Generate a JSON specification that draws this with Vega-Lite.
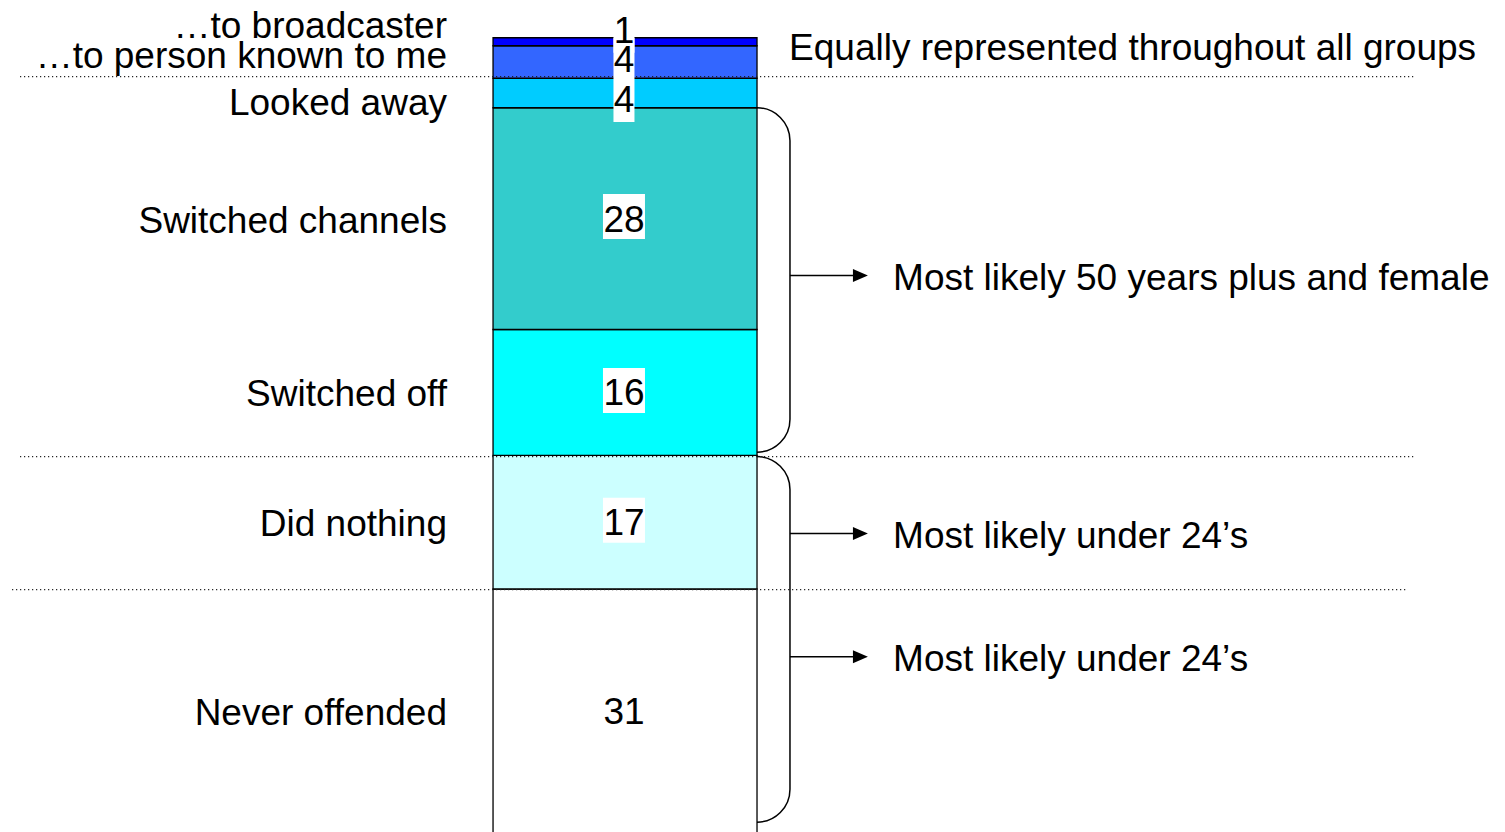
{
  "$schema": "https://vega.github.io/schema/vega-lite/v6.json",
  "width": 1505,
  "height": 832,
  "autosize": {"type": "fit", "contains": "padding"},
  "padding": 0,
  "background": "white",
  "config": {
    "view": {"stroke": null},
    "axis": {"disable": true},
    "font": "Liberation Sans",
    "text": {"font": "Liberation Sans", "fontSize": 37, "color": "black"}
  },
  "datasets": {
    "responses": [
      {"response": "Never offended", "value": 31.1, "order": 1},
      {"response": "Did nothing", "value": 17.0, "order": 2},
      {"response": "Switched off", "value": 16.0, "order": 3},
      {"response": "Switched channels", "value": 28.2, "order": 4},
      {"response": "Looked away", "value": 3.75, "order": 5},
      {"response": "…to person known to me", "value": 4.13, "order": 6},
      {"response": "…to broadcaster", "value": 1.02, "order": 7}
    ],
    "brackets": [
      {"group": "50 years plus and female", "lo": 48.5, "hi": 92.3},
      {"group": "under 24’s", "lo": 1.45, "hi": 47.94}
    ],
    "notes": [
      {"note": "Most likely 50 years plus and female", "y": 70.96},
      {"note": "Most likely under 24’s", "y": 38.15},
      {"note": "Most likely under 24’s", "y": 22.5}
    ],
    "dividers": [{"y": 96.26}, {"y": 47.94}],
    "dividers2": [{"y": 31.03}],
    "header": [{"note": "Equally represented throughout all groups", "y": 99.8}]
  },
  "layer": [
    {
      "data": {"name": "brackets"},
      "mark": {"type": "rect", "filled": false, "stroke": "black", "strokeWidth": 1.5, "cornerRadius": 33},
      "encoding": {
        "x": {"datum": 45, "type": "quantitative", "scale": {"domain": [0, 100], "nice": false, "zero": false}, "axis": null},
        "x2": {"datum": 52.49},
        "y": {"field": "lo", "type": "quantitative", "scale": {"domain": [0.2, 106], "nice": false, "zero": false}, "axis": null},
        "y2": {"field": "hi"}
      }
    },
    {
      "data": {"name": "responses"},
      "transform": [{"stack": "value", "groupby": [], "sort": [{"field": "order", "order": "ascending"}], "as": ["lo", "hi"]}],
      "mark": {"type": "rect", "stroke": "black", "strokeWidth": 1.3, "clip": true},
      "encoding": {
        "x": {"datum": 32.76, "type": "quantitative"},
        "x2": {"datum": 50.3},
        "y": {"field": "lo", "type": "quantitative"},
        "y2": {"field": "hi"},
        "color": {
          "field": "response",
          "type": "nominal",
          "legend": null,
          "scale": {
            "domain": ["Never offended", "Did nothing", "Switched off", "Switched channels", "Looked away", "…to person known to me", "…to broadcaster"],
            "range": ["#FFFFFF", "#CCFFFF", "#00FFFF", "#33CCCC", "#00CCFF", "#3366FF", "#0000FF"]
          }
        }
      }
    },
    {
      "data": {"name": "dividers"},
      "mark": {"type": "rule", "color": "#222222", "strokeWidth": 1.2, "strokeDash": [1.2, 2.8]},
      "encoding": {
        "x": {"datum": 1.33, "type": "quantitative"},
        "x2": {"datum": 94.02},
        "y": {"field": "y", "type": "quantitative"}
      }
    },
    {
      "data": {"name": "dividers2"},
      "mark": {"type": "rule", "color": "#222222", "strokeWidth": 1.2, "strokeDash": [1.2, 2.8]},
      "encoding": {
        "x": {"datum": 0.8, "type": "quantitative"},
        "x2": {"datum": 93.49},
        "y": {"field": "y", "type": "quantitative"}
      }
    },
    {
      "data": {"name": "responses"},
      "transform": [
        {"stack": "value", "groupby": [], "sort": [{"field": "order", "order": "ascending"}], "as": ["lo", "hi"]},
        {"fold": ["lo", "hi"], "as": ["edge", "pos"]},
        {"aggregate": [{"op": "mean", "field": "pos", "as": "mid"}], "groupby": ["response", "value", "order"]}
      ],
      "encoding": {
        "x": {"datum": 41.46, "type": "quantitative"},
        "y": {"field": "mid", "type": "quantitative"}
      },
      "layer": [
        {
          "transform": [{"filter": "datum.value >= 9.5"}],
          "mark": {"type": "point", "shape": "M-21,-22.5H21V22.5H-21Z", "size": 4, "filled": true, "color": "white", "opacity": 1, "strokeWidth": 0, "yOffset": -2}
        },
        {
          "transform": [{"filter": "datum.order === 6"}],
          "mark": {"type": "point", "shape": "M-10.5,-21H10.5V21H-10.5Z", "size": 4, "filled": true, "color": "white", "opacity": 1, "strokeWidth": 0, "yOffset": -3}
        },
        {
          "transform": [{"filter": "datum.order === 7"}],
          "mark": {"type": "point", "shape": "M-10.5,-21H10.5V21H-10.5Z", "size": 4, "filled": true, "color": "white", "opacity": 1, "strokeWidth": 0, "yOffset": -10}
        },
        {
          "transform": [{"filter": "datum.order === 5"}],
          "mark": {"type": "point", "shape": "M-10.5,-21H10.5V21H-10.5Z", "size": 4, "filled": true, "color": "white", "opacity": 1, "strokeWidth": 0, "yOffset": 8}
        },
        {
          "transform": [{"filter": "datum.order <= 4"}],
          "mark": {"type": "text", "align": "center", "baseline": "middle", "fontSize": 37, "yOffset": 2}
        ,
          "encoding": {"text": {"field": "value", "type": "quantitative", "format": ".0f"}}
        },
        {
          "transform": [{"filter": "datum.order === 6"}],
          "mark": {"type": "text", "align": "center", "baseline": "middle", "fontSize": 37, "yOffset": -1},
          "encoding": {"text": {"field": "value", "type": "quantitative", "format": ".0f"}}
        },
        {
          "transform": [{"filter": "datum.order === 7"}],
          "mark": {"type": "text", "align": "center", "baseline": "middle", "fontSize": 37, "yOffset": -9.5},
          "encoding": {"text": {"field": "value", "type": "quantitative", "format": ".0f"}}
        },
        {
          "transform": [{"filter": "datum.order === 5"}],
          "mark": {"type": "text", "align": "center", "baseline": "middle", "fontSize": 37, "yOffset": 8.5},
          "encoding": {"text": {"field": "value", "type": "quantitative", "format": ".0f"}}
        }
      ]
    },
    {
      "data": {"name": "responses"},
      "transform": [
        {"stack": "value", "groupby": [], "sort": [{"field": "order", "order": "ascending"}], "as": ["lo", "hi"]},
        {"fold": ["lo", "hi"], "as": ["edge", "pos"]},
        {"aggregate": [{"op": "mean", "field": "pos", "as": "mid"}], "groupby": ["response", "value", "order"]}
      ],
      "encoding": {
        "x": {"datum": 29.7, "type": "quantitative"},
        "y": {"field": "mid", "type": "quantitative"},
        "text": {"field": "response", "type": "nominal"}
      },
      "layer": [
        {
          "transform": [{"filter": "datum.order <= 4"}],
          "mark": {"type": "text", "align": "right", "baseline": "middle", "fontSize": 37, "yOffset": 3}
        },
        {
          "transform": [{"filter": "datum.order === 5"}],
          "mark": {"type": "text", "align": "right", "baseline": "middle", "fontSize": 37, "yOffset": 11}
        },
        {
          "transform": [{"filter": "datum.order === 6"}],
          "mark": {"type": "text", "align": "right", "baseline": "middle", "fontSize": 37, "yOffset": -5.5}
        },
        {
          "transform": [{"filter": "datum.order === 7"}],
          "mark": {"type": "text", "align": "right", "baseline": "middle", "fontSize": 37, "yOffset": -15}
        }
      ]
    },
    {
      "data": {"name": "notes"},
      "encoding": {
        "y": {"field": "y", "type": "quantitative"}
      },
      "layer": [
        {
          "mark": {"type": "rule", "color": "black", "strokeWidth": 1.5},
          "encoding": {
            "x": {"datum": 52.49, "type": "quantitative"},
            "x2": {"datum": 56.7}
          }
        },
        {
          "mark": {"type": "point", "shape": "M-7.5,-6.5L7.5,0L-7.5,6.5Z", "size": 4, "filled": true, "color": "black", "opacity": 1, "strokeWidth": 0},
          "encoding": {
            "x": {"datum": 57.17, "type": "quantitative"}
          }
        },
        {
          "mark": {"type": "text", "align": "left", "baseline": "middle", "fontSize": 37, "yOffset": 3},
          "encoding": {
            "x": {"datum": 59.34, "type": "quantitative"},
            "text": {"field": "note", "type": "nominal"}
          }
        }
      ]
    },
    {
      "data": {"name": "header"},
      "mark": {"type": "text", "align": "left", "baseline": "middle", "fontSize": 37},
      "encoding": {
        "x": {"datum": 52.43, "type": "quantitative"},
        "y": {"field": "y", "type": "quantitative"},
        "text": {"field": "note", "type": "nominal"}
      }
    }
  ]
}
